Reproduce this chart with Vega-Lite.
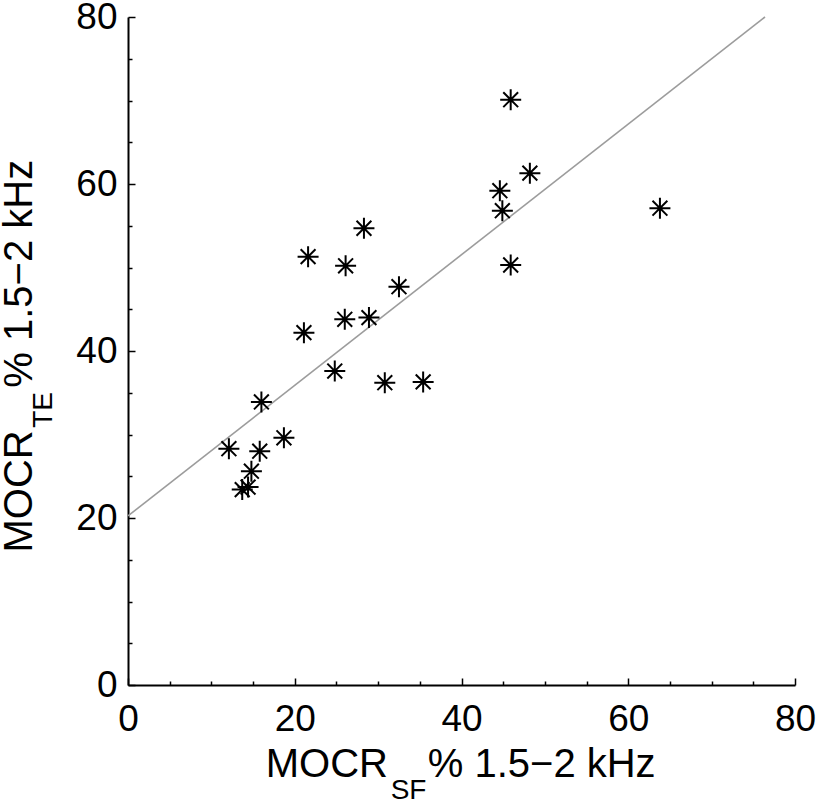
{
  "$schema": "https://vega.github.io/schema/vega-lite/v6.json",
  "width": 667,
  "height": 668,
  "autosize": {"type": "none"},
  "padding": {"left": 128, "top": 17, "right": 21, "bottom": 114},
  "background": "white",
  "config": {
    "view": {"stroke": null},
    "font": "Liberation Sans",
    "axis": {
      "domainColor": "black",
      "domainWidth": 2,
      "tickColor": "black",
      "tickWidth": 1.5,
      "labelColor": "black",
      "labelFont": "Liberation Sans",
      "labelFontSize": 37,
      "labelFlush": false,
      "labelOverlap": false,
      "labelBound": false,
      "grid": false,
      "values": [0,2,4,6,8,10,12,14,16,18,20,22,24,26,28,30,32,34,36,38,40,42,44,46,48,50,52,54,56,58,60,62,64,66,68,70,72,74,76,78,80],
      "labelExpr": "datum.value % 20 === 0 ? datum.label : ''",
      "tickSize": {"condition": {"test": "datum.value % 20 === 0", "value": -7}, "value": -4}
    },
    "axisX": {"labelPadding": 23},
    "axisY": {"labelPadding": 18}
  },
  "datasets": {
    "points": [
      {"sf": 45.9, "te": 70.1},
      {"sf": 48.2, "te": 61.3},
      {"sf": 44.6, "te": 59.2},
      {"sf": 44.9, "te": 56.8},
      {"sf": 63.8, "te": 57.1},
      {"sf": 45.9, "te": 50.3},
      {"sf": 21.6, "te": 51.3},
      {"sf": 28.3, "te": 54.7},
      {"sf": 26.1, "te": 50.2},
      {"sf": 32.5, "te": 47.7},
      {"sf": 26.0, "te": 43.8},
      {"sf": 28.9, "te": 44.0},
      {"sf": 21.1, "te": 42.2},
      {"sf": 24.8, "te": 37.6},
      {"sf": 30.8, "te": 36.2},
      {"sf": 35.4, "te": 36.3},
      {"sf": 16.0, "te": 33.9},
      {"sf": 18.7, "te": 29.6},
      {"sf": 12.1, "te": 28.3},
      {"sf": 15.8, "te": 28.0},
      {"sf": 14.8, "te": 25.6},
      {"sf": 14.4, "te": 23.7},
      {"sf": 13.7, "te": 23.4}
    ],
    "fit": [
      {"sf": 0, "te": 20.25},
      {"sf": 76.4, "te": 80.0}
    ]
  },
  "layer": [
    {
      "data": {"name": "fit"},
      "mark": {"type": "line", "color": "#9c9c9c", "strokeWidth": 1.6},
      "encoding": {
        "x": {"field": "sf", "type": "quantitative", "scale": {"domain": [0, 80], "nice": false, "zero": false}, "title": null},
        "y": {"field": "te", "type": "quantitative", "scale": {"domain": [0, 80], "nice": false, "zero": false}, "title": null}
      }
    },
    {
      "data": {"name": "points"},
      "mark": {
        "type": "point",
        "shape": "M-1,0L1,0M0,-1L0,1M-0.707,-0.707L0.707,0.707M-0.707,0.707L0.707,-0.707",
        "filled": false,
        "stroke": "black",
        "strokeWidth": 2,
        "size": 441,
        "opacity": 1
      },
      "encoding": {
        "x": {"field": "sf", "type": "quantitative", "title": null},
        "y": {"field": "te", "type": "quantitative", "title": null}
      }
    },
    {
      "data": {"values": [{"t": "MOCR"}]},
      "mark": {"type": "text", "align": "right", "baseline": "alphabetic", "fontSize": 40, "font": "Liberation Sans", "color": "black"},
      "encoding": {
        "text": {"field": "t"},
        "x": {"datum": 31.18, "type": "quantitative", "title": null},
        "y": {"datum": -11.0, "type": "quantitative", "title": null}
      }
    },
    {
      "data": {"values": [{"t": "SF"}]},
      "mark": {"type": "text", "align": "left", "baseline": "alphabetic", "fontSize": 28, "font": "Liberation Sans", "color": "black"},
      "encoding": {
        "text": {"field": "t"},
        "x": {"datum": 31.5, "type": "quantitative", "title": null},
        "y": {"datum": -13.6, "type": "quantitative", "title": null}
      }
    },
    {
      "data": {"values": [{"t": "% 1.5−2 kHz"}]},
      "mark": {"type": "text", "align": "left", "baseline": "alphabetic", "fontSize": 40, "font": "Liberation Sans", "color": "black"},
      "encoding": {
        "text": {"field": "t"},
        "x": {"datum": 35.95, "type": "quantitative", "title": null},
        "y": {"datum": -11.0, "type": "quantitative", "title": null}
      }
    },
    {
      "data": {"values": [{"t": "MOCR"}]},
      "mark": {"type": "text", "angle": 270, "align": "right", "baseline": "alphabetic", "fontSize": 40, "font": "Liberation Sans", "color": "black"},
      "encoding": {
        "text": {"field": "t"},
        "x": {"datum": -11.5, "type": "quantitative", "title": null},
        "y": {"datum": 30.5, "type": "quantitative", "title": null}
      }
    },
    {
      "data": {"values": [{"t": "TE"}]},
      "mark": {"type": "text", "angle": 270, "align": "left", "baseline": "alphabetic", "fontSize": 28, "font": "Liberation Sans", "color": "black"},
      "encoding": {
        "text": {"field": "t"},
        "x": {"datum": -9.1, "type": "quantitative", "title": null},
        "y": {"datum": 30.8, "type": "quantitative", "title": null}
      }
    },
    {
      "data": {"values": [{"t": "% 1.5−2 kHz"}]},
      "mark": {"type": "text", "angle": 270, "align": "left", "baseline": "alphabetic", "fontSize": 40, "font": "Liberation Sans", "color": "black"},
      "encoding": {
        "text": {"field": "t"},
        "x": {"datum": -11.5, "type": "quantitative", "title": null},
        "y": {"datum": 35.6, "type": "quantitative", "title": null}
      }
    }
  ]
}
